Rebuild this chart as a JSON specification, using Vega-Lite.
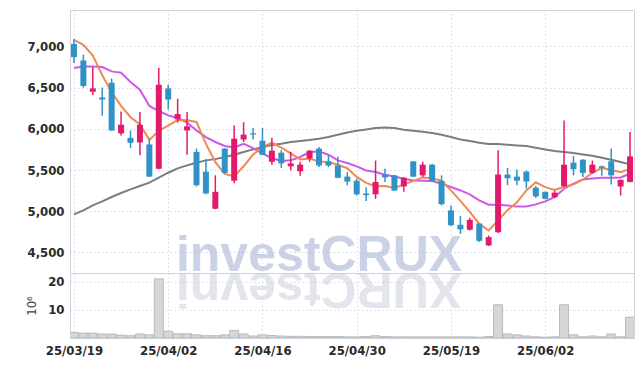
{
  "$schema": "https://vega.github.io/schema/vega-lite/v6.json",
  "padding": {"left": 25, "top": 9, "right": 5, "bottom": 5},
  "background": "white",
  "spacing": 0,
  "bounds": "flush",
  "datasets": {
    "k": [
      {"d": "25/03/19", "o": 7030, "h": 7090, "l": 6800, "c": 6870, "v": 2.0, "m5": 7080, "m20": 6738, "m60": 4961},
      {"d": "25/03/20", "o": 6830, "h": 6900, "l": 6500, "c": 6520, "v": 1.7, "m5": 7020, "m20": 6757, "m60": 5010},
      {"d": "25/03/21", "o": 6450, "h": 6750, "l": 6410, "c": 6490, "v": 1.7, "m5": 6890, "m20": 6757, "m60": 5070},
      {"d": "25/03/24", "o": 6380, "h": 6500, "l": 6160, "c": 6355, "v": 1.4, "m5": 6650, "m20": 6750, "m60": 5119},
      {"d": "25/03/25", "o": 6560, "h": 6610, "l": 5975, "c": 5980, "v": 1.4, "m5": 6443, "m20": 6697, "m60": 5172},
      {"d": "25/03/26", "o": 5945, "h": 6210, "l": 5920, "c": 6050, "v": 1.0, "m5": 6279, "m20": 6681, "m60": 5221},
      {"d": "25/03/27", "o": 5890, "h": 5980, "l": 5770, "c": 5830, "v": 0.8, "m5": 6141, "m20": 6568, "m60": 5265},
      {"d": "25/03/28", "o": 5835, "h": 6205, "l": 5680, "c": 6050, "v": 1.4, "m5": 6053, "m20": 6474, "m60": 5306},
      {"d": "25/03/31", "o": 5810, "h": 5880, "l": 5415, "c": 5420, "v": 1.1, "m5": 5866, "m20": 6277, "m60": 5346},
      {"d": "25/04/01", "o": 5515, "h": 6740, "l": 5510, "c": 6535, "v": 21.0, "m5": 5977, "m20": 6216, "m60": 5407},
      {"d": "25/04/02", "o": 6490, "h": 6535, "l": 6235, "c": 6355, "v": 2.4, "m5": 6038, "m20": 6163, "m60": 5467},
      {"d": "25/04/03", "o": 6115, "h": 6365, "l": 6075, "c": 6180, "v": 1.5, "m5": 6108, "m20": 6131, "m60": 5520},
      {"d": "25/04/04", "o": 5980, "h": 6205, "l": 5685, "c": 6030, "v": 1.5, "m5": 6104, "m20": 6074, "m60": 5556},
      {"d": "25/04/07", "o": 5720, "h": 5760, "l": 5300, "c": 5315, "v": 1.1, "m5": 6083, "m20": 5981, "m60": 5589},
      {"d": "25/04/08", "o": 5480, "h": 5630, "l": 5205, "c": 5215, "v": 0.8, "m5": 5819, "m20": 5900, "m60": 5617},
      {"d": "25/04/09", "o": 5030, "h": 5435, "l": 5025, "c": 5235, "v": 0.8, "m5": 5595, "m20": 5840, "m60": 5632},
      {"d": "25/04/10", "o": 5760, "h": 5765, "l": 5460, "c": 5465, "v": 1.1, "m5": 5452, "m20": 5791, "m60": 5658},
      {"d": "25/04/11", "o": 5370, "h": 6040, "l": 5340, "c": 5880, "v": 2.7, "m5": 5422, "m20": 5774, "m60": 5686},
      {"d": "25/04/14", "o": 5870, "h": 6080, "l": 5840, "c": 5930, "v": 1.4, "m5": 5545, "m20": 5819, "m60": 5718},
      {"d": "25/04/15", "o": 5945, "h": 6010, "l": 5870, "c": 5930, "v": 0.7, "m5": 5688, "m20": 5766, "m60": 5750},
      {"d": "25/04/16", "o": 5855, "h": 6010, "l": 5680, "c": 5685, "v": 1.1, "m5": 5778, "m20": 5698, "m60": 5779},
      {"d": "25/04/17", "o": 5600, "h": 5890, "l": 5565, "c": 5735, "v": 0.9, "m5": 5832, "m20": 5646, "m60": 5803},
      {"d": "25/04/18", "o": 5710, "h": 5740, "l": 5525, "c": 5580, "v": 0.7, "m5": 5772, "m20": 5609, "m60": 5819},
      {"d": "25/04/21", "o": 5545, "h": 5720, "l": 5495, "c": 5580, "v": 0.6, "m5": 5702, "m20": 5617, "m60": 5840},
      {"d": "25/04/22", "o": 5485, "h": 5600, "l": 5430, "c": 5565, "v": 0.6, "m5": 5629, "m20": 5658, "m60": 5852},
      {"d": "25/04/23", "o": 5640, "h": 5740, "l": 5600, "c": 5735, "v": 0.5, "m5": 5639, "m20": 5718, "m60": 5864},
      {"d": "25/04/24", "o": 5760, "h": 5780, "l": 5535, "c": 5555, "v": 0.5, "m5": 5603, "m20": 5726, "m60": 5880},
      {"d": "25/04/25", "o": 5605, "h": 5680, "l": 5535, "c": 5555, "v": 0.5, "m5": 5598, "m20": 5686, "m60": 5900},
      {"d": "25/04/28", "o": 5555, "h": 5660, "l": 5400, "c": 5405, "v": 0.5, "m5": 5563, "m20": 5617, "m60": 5928},
      {"d": "25/04/29", "o": 5420, "h": 5475, "l": 5315, "c": 5360, "v": 0.4, "m5": 5522, "m20": 5585, "m60": 5956},
      {"d": "25/04/30", "o": 5370, "h": 5395, "l": 5190, "c": 5205, "v": 0.4, "m5": 5416, "m20": 5544, "m60": 5977},
      {"d": "25/05/02", "o": 5215, "h": 5290, "l": 5125, "c": 5195, "v": 0.5, "m5": 5344, "m20": 5495, "m60": 5993},
      {"d": "25/05/07", "o": 5205, "h": 5615, "l": 5150, "c": 5355, "v": 0.8, "m5": 5304, "m20": 5476, "m60": 6010},
      {"d": "25/05/08", "o": 5445, "h": 5515, "l": 5355, "c": 5410, "v": 0.5, "m5": 5305, "m20": 5443, "m60": 6017},
      {"d": "25/05/09", "o": 5435, "h": 5440, "l": 5245, "c": 5250, "v": 0.4, "m5": 5283, "m20": 5422, "m60": 6010},
      {"d": "25/05/12", "o": 5300, "h": 5415, "l": 5235, "c": 5405, "v": 0.4, "m5": 5323, "m20": 5394, "m60": 5989},
      {"d": "25/05/13", "o": 5605, "h": 5610, "l": 5415, "c": 5420, "v": 0.4, "m5": 5368, "m20": 5374, "m60": 5977},
      {"d": "25/05/14", "o": 5435, "h": 5600, "l": 5415, "c": 5565, "v": 0.4, "m5": 5410, "m20": 5370, "m60": 5965},
      {"d": "25/05/15", "o": 5565, "h": 5575, "l": 5360, "c": 5365, "v": 0.4, "m5": 5401, "m20": 5366, "m60": 5949},
      {"d": "25/05/16", "o": 5370, "h": 5435, "l": 5070, "c": 5085, "v": 0.4, "m5": 5368, "m20": 5334, "m60": 5928},
      {"d": "25/05/19", "o": 5010, "h": 5070, "l": 4820, "c": 4830, "v": 0.4, "m5": 5253, "m20": 5293, "m60": 5900},
      {"d": "25/05/20", "o": 4835, "h": 4940, "l": 4725, "c": 4780, "v": 0.4, "m5": 5125, "m20": 5252, "m60": 5871},
      {"d": "25/05/21", "o": 4775, "h": 4920, "l": 4765, "c": 4895, "v": 0.4, "m5": 4991, "m20": 5204, "m60": 5852},
      {"d": "25/05/22", "o": 4850, "h": 4855, "l": 4625, "c": 4640, "v": 0.3, "m5": 4846, "m20": 5131, "m60": 5831},
      {"d": "25/05/23", "o": 4585, "h": 4705, "l": 4578, "c": 4685, "v": 0.5, "m5": 4766, "m20": 5079, "m60": 5815},
      {"d": "25/05/26", "o": 4745, "h": 5740, "l": 4735, "c": 5445, "v": 11.8, "m5": 4889, "m20": 5079, "m60": 5815},
      {"d": "25/05/27", "o": 5445, "h": 5525, "l": 5315, "c": 5400, "v": 1.4, "m5": 5013, "m20": 5070, "m60": 5807},
      {"d": "25/05/28", "o": 5420, "h": 5505, "l": 5315, "c": 5370, "v": 1.1, "m5": 5108, "m20": 5058, "m60": 5798},
      {"d": "25/05/29", "o": 5480, "h": 5495, "l": 5275, "c": 5360, "v": 0.7, "m5": 5252, "m20": 5058, "m60": 5791},
      {"d": "25/05/30", "o": 5285, "h": 5305, "l": 5160, "c": 5180, "v": 0.4, "m5": 5351, "m20": 5083, "m60": 5771},
      {"d": "25/06/02", "o": 5235, "h": 5240, "l": 5145, "c": 5150, "v": 0.3, "m5": 5292, "m20": 5119, "m60": 5750},
      {"d": "25/06/04", "o": 5170, "h": 5250, "l": 5160, "c": 5225, "v": 0.4, "m5": 5257, "m20": 5172, "m60": 5730},
      {"d": "25/06/05", "o": 5305, "h": 6100, "l": 5295, "c": 5565, "v": 11.8, "m5": 5296, "m20": 5273, "m60": 5718},
      {"d": "25/06/09", "o": 5590, "h": 5670, "l": 5435, "c": 5510, "v": 1.1, "m5": 5326, "m20": 5334, "m60": 5706},
      {"d": "25/06/10", "o": 5625, "h": 5630, "l": 5415, "c": 5465, "v": 0.4, "m5": 5383, "m20": 5386, "m60": 5689},
      {"d": "25/06/11", "o": 5465, "h": 5615, "l": 5455, "c": 5565, "v": 0.7, "m5": 5466, "m20": 5398, "m60": 5673},
      {"d": "25/06/12", "o": 5545, "h": 5555, "l": 5430, "c": 5525, "v": 0.4, "m5": 5526, "m20": 5407, "m60": 5649},
      {"d": "25/06/13", "o": 5605, "h": 5760, "l": 5325, "c": 5435, "v": 1.4, "m5": 5500, "m20": 5407, "m60": 5625},
      {"d": "25/06/16", "o": 5300, "h": 5385, "l": 5190, "c": 5380, "v": 0.4, "m5": 5474, "m20": 5410, "m60": 5597},
      {"d": "25/06/17", "o": 5355, "h": 5960, "l": 5350, "c": 5665, "v": 7.4, "m5": 5514, "m20": 5455, "m60": 5568}
    ]
  },
  "vconcat": [
    {
      "width": 564,
      "height": 263,
      "data": {"name": "k"},
      "encoding": {
        "x": {
          "field": "d",
          "type": "ordinal",
          "title": null,
          "scale": {"type": "point", "padding": 0.42},
          "axis": {"labels": false, "grid": true, "labelPadding": 0, "minExtent": 0, "maxExtent": 0, "values": ["25/03/19", "25/04/02", "25/04/16", "25/04/30", "25/05/19", "25/06/02"]}
        }
      },
      "layer": [
        {
          "data": {"values": [{}]},
          "mark": {"type": "text", "text": "investCRUX", "font": "Liberation Sans", "fontWeight": "bold", "fontSize": 50, "color": "#909dc7", "opacity": 0.45, "align": "center", "baseline": "alphabetic", "clip": true},
          "encoding": {
            "x": {"datum": "25/04/24", "type": "ordinal", "title": null},
            "y": {"datum": 4280, "type": "quantitative", "title": null, "scale": {"domain": [4250, 7442], "nice": false, "zero": false}}
          }
        },
        {
          "mark": {"type": "line", "color": "#7d7d7d", "strokeWidth": 2},
          "encoding": {"y": {"field": "m60", "type": "quantitative", "title": null, "scale": {"domain": [4250, 7442], "nice": false, "zero": false}}}
        },
        {
          "mark": {"type": "line", "color": "#cf58ea", "strokeWidth": 2},
          "encoding": {"y": {"field": "m20", "type": "quantitative", "title": null, "scale": {"domain": [4250, 7442], "nice": false, "zero": false}}}
        },
        {
          "mark": {"type": "line", "color": "#ef8a50", "strokeWidth": 2},
          "encoding": {"y": {"field": "m5", "type": "quantitative", "title": null, "scale": {"domain": [4250, 7442], "nice": false, "zero": false}}}
        },
        {
          "mark": {"type": "rule", "strokeWidth": 1.5},
          "encoding": {
            "y": {"field": "l", "type": "quantitative", "title": null, "scale": {"domain": [4250, 7442], "nice": false, "zero": false},
              "axis": {"values": [4500, 5000, 5500, 6000, 6500, 7000], "format": ",d", "grid": true, "labelPadding": 6}},
            "y2": {"field": "h"},
            "color": {"condition": {"test": "datum.c > datum.o", "value": "#e21a6c"}, "value": "#3093c7"}
          }
        },
        {
          "mark": {"type": "bar", "width": 6},
          "encoding": {
            "y": {"field": "o", "type": "quantitative", "title": null, "scale": {"domain": [4250, 7442], "nice": false, "zero": false}},
            "y2": {"field": "c"},
            "color": {"condition": {"test": "datum.c > datum.o", "value": "#e21a6c"}, "value": "#3093c7"}
          }
        }
      ]
    },
    {
      "width": 564,
      "height": 65,
      "data": {"name": "k"},
      "encoding": {
        "x": {
          "field": "d",
          "type": "ordinal",
          "title": null,
          "scale": {"type": "point", "padding": 0.42},
          "axis": {"labelAngle": 0, "labelPadding": 6, "grid": true, "values": ["25/03/19", "25/04/02", "25/04/16", "25/04/30", "25/05/19", "25/06/02"]}
        }
      },
      "layer": [
        {
          "data": {"values": [{}]},
          "mark": {"type": "text", "text": "XURCtsevni", "font": "Liberation Sans", "fontWeight": "bold", "fontSize": 50, "color": "#c3c7d9", "opacity": 0.45, "angle": 180, "align": "center", "baseline": "alphabetic", "clip": true},
          "encoding": {
            "x": {"datum": "25/04/24", "type": "ordinal", "title": null},
            "y": {"datum": 23, "type": "quantitative", "title": null, "scale": {"domain": [0, 23.1], "nice": false}}
          }
        },
        {
          "mark": {"type": "bar", "width": 9, "color": "#d6d6d6", "stroke": "#b8b8b8", "strokeWidth": 1, "clip": true},
          "encoding": {
            "y": {
              "field": "v",
              "type": "quantitative",
              "scale": {"domain": [0, 23.1], "nice": false},
              "axis": {"values": [10, 20], "grid": true, "labelPadding": 6, "title": "10⁶", "titleFontWeight": "normal", "titleFontSize": 13, "titleColor": "#444", "titlePadding": 9}
            }
          }
        }
      ]
    }
  ],
  "config": {
    "font": "DejaVu Sans Condensed",
    "concat": {"spacing": 0},
    "view": {"stroke": "#cfd2da"},
    "axis": {
      "domain": false,
      "ticks": false,
      "gridColor": "#c3c8d8",
      "gridDash": [1, 3],
      "gridWidth": 1,
      "labelFont": "DejaVu Sans Condensed",
      "labelFontSize": 13,
      "labelFontWeight": "bold",
      "labelColor": "#2a2a2a",
      "titleFont": "DejaVu Sans Condensed"
    }
  }
}
